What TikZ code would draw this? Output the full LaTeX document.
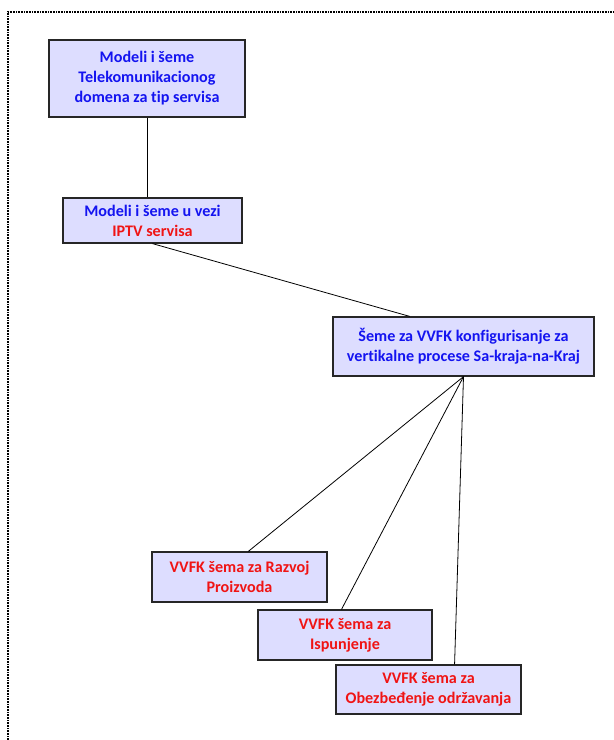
\documentclass[tikz,border=0pt]{standalone}
\usepackage{fontspec}
\setmainfont[Ligatures=NoCommon]{Carlito}
\usetikzlibrary{calc}

\definecolor{boxfill}{RGB}{221,221,255}
\definecolor{txtblue}{RGB}{20,20,240}
\definecolor{txtred}{RGB}{240,20,20}

\begin{document}
\begin{tikzpicture}[
    x=0.75pt, y=-0.75pt,
    font=\fontsize{12.1}{15}\selectfont\bfseries,
    schema/.style = {rectangle, draw=black!85, line width=0.9pt, fill=boxfill,
                     align=center, inner sep=2pt},
    link/.style   = {draw=black, line width=0.6pt},
    frame/.style  = {draw=black, line width=1.6pt, dash pattern=on 0.6pt off 0.6pt}
  ]
  \useasboundingbox (0,0) rectangle (614,740);

  % --- outer dotted frame (top and left only) ---
  \draw[frame] (8,740) -- (8,12) -- (614,12);

  % --- upper chain ---
  \node[schema, minimum width=147pt, minimum height=57.75pt, text=txtblue] (domain) at (147,78.5)
       {Modeli i šeme\\Telekomunikacionog\\domena za tip servisa};
  \node[schema, minimum width=134.25pt, minimum height=33.75pt, text=txtblue] (iptv) at (152.5,220.5)
       {Modeli i šeme u vezi\\\textcolor{txtred}{IPTV servisa}};
  \node[schema, minimum width=195.75pt, minimum height=44.25pt, text=txtblue] (vvfk) at (463.5,346.5)
       {Šeme za VVFK konfigurisanje za\\vertikalne procese Sa-kraja-na-Kraj};

  % --- VVFK schemas ---
  \node[schema, minimum width=131.25pt, minimum height=37.5pt, text=txtred] (razvoj) at (239.5,577)
       {VVFK šema za Razvoj\\Proizvoda};
  \node[schema, minimum width=130.5pt, minimum height=37.5pt, text=txtred] (ispun) at (345,635)
       {VVFK šema za\\Ispunjenje};
  \node[schema, minimum width=138.75pt, minimum height=36.75pt, text=txtred] (obezb) at (428.5,689.5)
       {VVFK šema za\\Obezbeđenje održavanja};

  % --- connectors ---
  \draw[link] (domain.south) -- (domain.south |- iptv.north);
  \draw[link] (iptv.south) -- ($(vvfk.north west)!0.295!(vvfk.north east)$);
  \draw[link] (vvfk.south) -- ($(razvoj.north west)!0.55!(razvoj.north east)$);
  \draw[link] (vvfk.south) -- ($(ispun.north west)!0.48!(ispun.north east)$);
  \draw[link] (vvfk.south) -- ($(obezb.north west)!0.64!(obezb.north east)$);

\end{tikzpicture}
\end{document}
